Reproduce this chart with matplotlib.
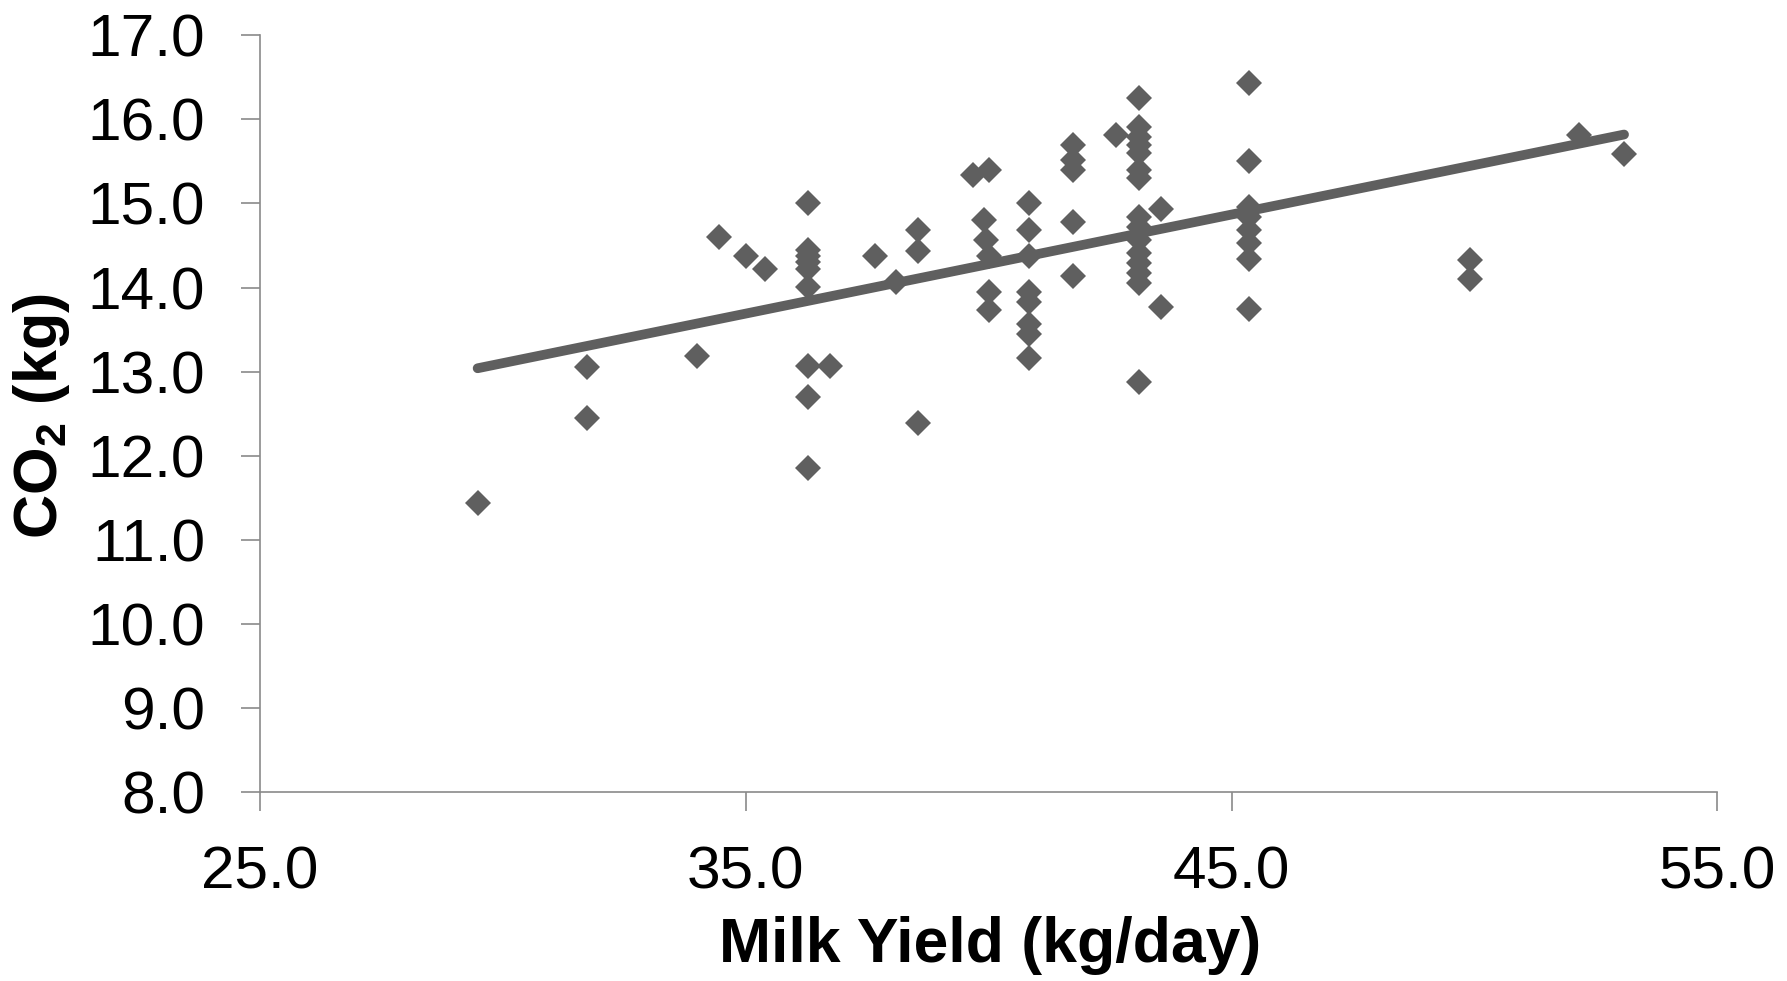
import matplotlib
matplotlib.use("Agg")
import matplotlib.pyplot as plt
import numpy as np

plt.rcParams['font.family'] = ['Liberation Sans', 'DejaVu Sans']
plt.rcParams['mathtext.fontset'] = 'custom'
plt.rcParams['mathtext.rm'] = 'Liberation Sans:bold'
plt.rcParams['mathtext.bf'] = 'Liberation Sans:bold'

milk_yield = [29.48, 31.73, 31.73, 34.00, 34.45, 35.00, 35.39,
              36.29, 36.29, 36.29, 36.29, 36.29, 36.29, 36.29, 36.29, 36.29,
              36.73, 37.65, 38.09, 38.55, 38.55, 38.55,
              39.68, 40.01, 39.90, 39.95, 40.00, 40.00, 40.00,
              40.83, 40.83, 40.83, 40.83, 40.83, 40.83, 40.83, 40.83,
              41.73, 41.73, 41.73, 41.73, 41.73, 42.63,
              43.09, 43.09, 43.09, 43.09, 43.09, 43.09, 43.09, 43.09, 43.09,
              43.09, 43.09, 43.09, 43.09, 43.09, 43.09,
              43.55, 43.55,
              45.36, 45.36, 45.36, 45.36, 45.36, 45.36, 45.36, 45.36,
              49.91, 49.91, 52.16, 53.08]
co2 = [11.44, 13.06, 12.45, 13.19, 14.60, 14.37, 14.22,
       15.00, 14.45, 14.38, 14.30, 14.22, 14.01, 13.07, 12.70, 11.85,
       13.07, 14.37, 14.07, 14.68, 14.43, 12.39,
       15.34, 15.40, 14.80, 14.57, 14.37, 13.95, 13.73,
       15.00, 14.68, 14.37, 13.95, 13.83, 13.57, 13.45, 13.16,
       15.70, 15.52, 15.40, 14.78, 14.14, 15.81,
       16.26, 15.91, 15.79, 15.70, 15.60, 15.40, 15.30, 14.84, 14.72,
       14.57, 14.41, 14.29, 14.17, 14.05, 12.88,
       14.93, 13.77,
       16.43, 15.51, 14.96, 14.84, 14.68, 14.53, 14.34, 13.74,
       14.33, 14.10, 15.82, 15.59]

trend_slope = 0.1178
trend_intercept = 9.567

x_ticks = [25.0, 35.0, 45.0, 55.0]
y_ticks = [8.0, 9.0, 10.0, 11.0, 12.0, 13.0, 14.0, 15.0, 16.0, 17.0]

color = '#5f5f5f'
axis_color = '#8a8a8a'

fig = plt.figure(figsize=(17.87, 9.81), dpi=100)
ax = fig.add_axes([0.1455, 0.1927, 0.8155, 0.7713])

ax.plot(milk_yield, co2, linestyle='none', marker='D', markersize=13.5,
        markeredgewidth=0, color=color, zorder=3)

xl = np.array([min(milk_yield), max(milk_yield)])
ax.plot(xl, trend_slope * xl + trend_intercept, color=color, lw=7,
        solid_capstyle='round', zorder=2)

ax.set_xlim(25, 55)
ax.set_ylim(8, 17)
ax.set_xticks(x_ticks)
ax.set_yticks(y_ticks)
ax.set_xticklabels([f"{v:.1f}" for v in x_ticks])
ax.set_yticklabels([f"{v:.1f}" for v in y_ticks])

for s in ['top', 'right']:
    ax.spines[s].set_visible(False)
for s in ['left', 'bottom']:
    ax.spines[s].set_color(axis_color)
    ax.spines[s].set_linewidth(1.2)

ax.tick_params(axis='both', direction='out', length=13.5, width=1.2,
               color=axis_color, labelsize=43.5, labelcolor='black')
ax.tick_params(axis='y', pad=26)
ax.tick_params(axis='x', pad=25)

ax.text(0.501, -0.2035, 'Milk Yield (kg/day)', transform=ax.transAxes,
        ha='center', va='center', fontsize=45, fontweight='bold')
ax.text(-0.150, 0.497, r'CO$_{2}$ (kg)', transform=ax.transAxes,
        ha='center', va='center', fontsize=44, fontweight='bold', rotation=90)

fig.savefig('out.png', dpi=100)
